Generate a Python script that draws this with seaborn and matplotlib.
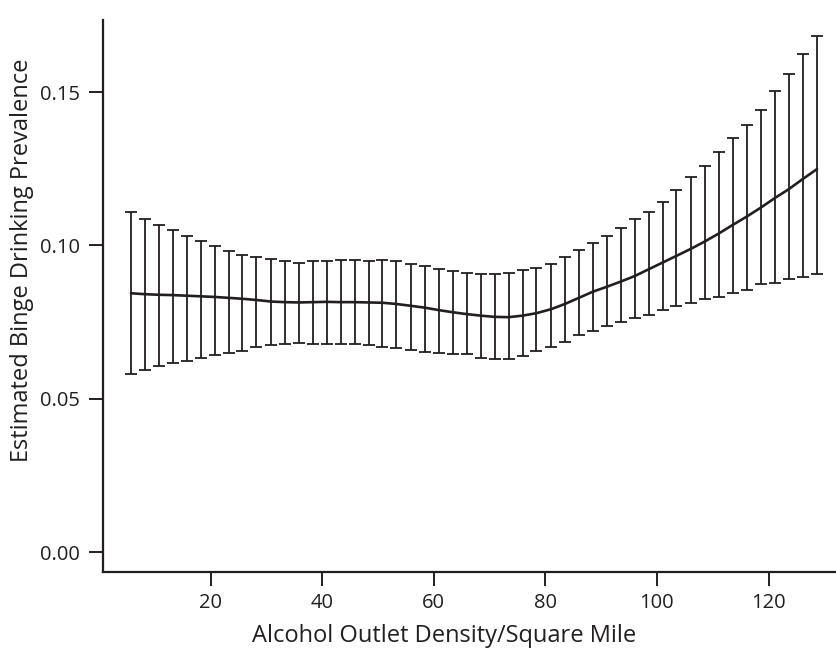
import numpy as np
import pandas as pd
import matplotlib
matplotlib.use("Agg")
import matplotlib.pyplot as plt
import seaborn as sns

# Alcohol outlet density (per square mile) at each estimate
density = [5.7, 8.2, 10.7, 13.2, 15.7, 18.2, 20.7, 23.2, 25.7, 28.2,
           30.8, 33.3, 35.8, 38.3, 40.8, 43.3, 45.8, 48.3, 50.8, 53.3,
           55.9, 58.4, 60.9, 63.4, 65.9, 68.4, 70.9, 73.4, 75.9, 78.4,
           81.0, 83.5, 86.0, 88.5, 91.0, 93.5, 96.0, 98.5, 101.0, 103.5,
           106.1, 108.6, 111.1, 113.6, 116.1, 118.6, 121.1, 123.6, 126.1, 128.7]

# Estimated binge drinking prevalence
prevalence = [0.0844, 0.0841, 0.0839, 0.0838, 0.0836, 0.0834, 0.0832, 0.0829, 0.0826, 0.0822,
              0.0817, 0.0815, 0.0814, 0.0815, 0.0816, 0.0815, 0.0815, 0.0814, 0.0813, 0.0809,
              0.0803, 0.0797, 0.0789, 0.0782, 0.0776, 0.0771, 0.0767, 0.0766, 0.0771, 0.0779,
              0.0792, 0.0809, 0.0829, 0.0849, 0.0865, 0.0882, 0.0900, 0.0922, 0.0944, 0.0966,
              0.0989, 0.1013, 0.1039, 0.1067, 0.1094, 0.1123, 0.1154, 0.1183, 0.1216, 0.1249]

# Upper and lower confidence limits
upper = [0.1109, 0.1087, 0.1068, 0.1050, 0.1032, 0.1013, 0.0999, 0.0983, 0.0970, 0.0962,
         0.0956, 0.0950, 0.0944, 0.0949, 0.0950, 0.0951, 0.0951, 0.0950, 0.0951, 0.0948,
         0.0940, 0.0934, 0.0924, 0.0916, 0.0911, 0.0906, 0.0908, 0.0911, 0.0919, 0.0927,
         0.0940, 0.0963, 0.0985, 0.1007, 0.1032, 0.1058, 0.1085, 0.1109, 0.1143, 0.1182,
         0.1222, 0.1260, 0.1306, 0.1351, 0.1394, 0.1443, 0.1503, 0.1559, 0.1623, 0.1683]

lower = [0.0582, 0.0594, 0.0607, 0.0617, 0.0624, 0.0634, 0.0644, 0.0650, 0.0657, 0.0670,
         0.0674, 0.0677, 0.0681, 0.0677, 0.0677, 0.0677, 0.0677, 0.0674, 0.0670, 0.0666,
         0.0658, 0.0652, 0.0650, 0.0647, 0.0645, 0.0634, 0.0629, 0.0630, 0.0641, 0.0657,
         0.0670, 0.0686, 0.0707, 0.0722, 0.0737, 0.0750, 0.0764, 0.0773, 0.0789, 0.0802,
         0.0811, 0.0824, 0.0833, 0.0844, 0.0855, 0.0873, 0.0878, 0.0889, 0.0896, 0.0906]

df = pd.DataFrame({"density": density, "prevalence": prevalence,
                   "upper": upper, "lower": lower})

ink = "#231f20"

sns.set_theme(style="ticks")
plt.rcParams["font.family"] = ["Open Sans", "DejaVu Sans"]
plt.rcParams["text.color"] = ink

fig = plt.figure(figsize=(8.36, 6.48), dpi=100)
ax = fig.add_axes([0.1229, 0.1168, 0.8771, 0.8523])

# error bars (asymmetric CI)
yerr = np.array([df.prevalence - df.lower, df.upper - df.prevalence])
ax.errorbar(df.density, df.prevalence, yerr=yerr, fmt="none",
            ecolor=ink, elinewidth=1.3, capsize=4.0, capthick=1.3)

# smoothed estimate
sns.lineplot(data=df, x="density", y="prevalence", color=ink, linewidth=1.9, ax=ax)

ax.set_xlim(0.65, 132.1)
ax.set_ylim(-0.0066, 0.1735)
ax.set_xticks([20, 40, 60, 80, 100, 120])
ax.set_yticks([0.00, 0.05, 0.10, 0.15])
ax.set_yticklabels(["0.00", "0.05", "0.10", "0.15"])

sns.despine(ax=ax)
for side in ["left", "bottom"]:
    ax.spines[side].set_color(ink)
    ax.spines[side].set_linewidth(1.6)

ax.tick_params(axis="both", colors=ink, labelcolor=ink, length=10, width=1.4,
               labelsize=14.5)
ax.tick_params(axis="x", pad=5)
ax.tick_params(axis="y", pad=6.5)

ax.set_xlabel("Alcohol Outlet Density/Square Mile", fontsize=17, color=ink)
ax.set_ylabel("Estimated Binge Drinking Prevalence", fontsize=17, color=ink)
ax.xaxis.set_label_coords(0.465, -0.093)
ax.yaxis.set_label_coords(-0.094, 0.565)

fig.savefig("out.png", dpi=100)
